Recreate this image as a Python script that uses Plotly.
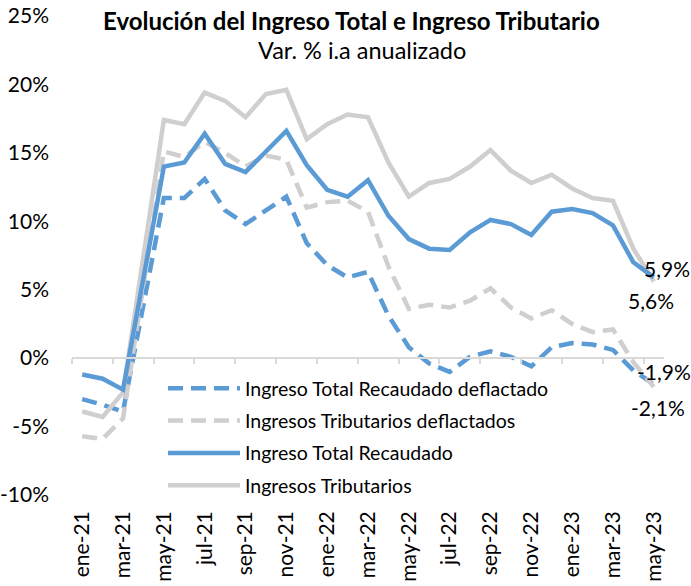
import plotly.graph_objects as go

months = ["ene-21", "feb-21", "mar-21", "abr-21", "may-21", "jun-21", "jul-21", "ago-21",
          "sep-21", "oct-21", "nov-21", "dic-21", "ene-22", "feb-22", "mar-22", "abr-22",
          "may-22", "jun-22", "jul-22", "ago-22", "sep-22", "oct-22", "nov-22", "dic-22",
          "ene-23", "feb-23", "mar-23", "abr-23", "may-23"]

total_deflactado = [-3.0, -3.4, -3.9, 3.9, 11.7, 11.7, 13.1, 10.8, 9.8, 10.8, 11.8, 8.4,
                    6.8, 5.9, 6.3, 3.1, 0.8, -0.4, -1.0, 0.1, 0.5, 0.1, -0.6, 0.8,
                    1.1, 1.0, 0.6, -0.9, -1.9]
tributarios_deflactados = [-5.7, -5.9, -4.4, 5.4, 15.1, 14.7, 15.8, 15.0, 14.0, 14.8, 14.5, 11.0,
                           11.4, 11.5, 10.7, 6.7, 3.6, 3.9, 3.7, 4.2, 5.1, 3.7, 2.9, 3.5,
                           2.5, 1.9, 2.1, -0.3, -2.1]
total_recaudado = [-1.2, -1.5, -2.3, 5.9, 14.0, 14.3, 16.4, 14.2, 13.6, 15.1, 16.6, 14.1,
                   12.3, 11.8, 13.0, 10.4, 8.7, 8.0, 7.9, 9.2, 10.1, 9.8, 9.0, 10.7,
                   10.9, 10.6, 9.7, 7.0, 5.9]
tributarios = [-3.9, -4.3, -2.5, 7.5, 17.4, 17.1, 19.4, 18.8, 17.6, 19.3, 19.6, 16.0,
               17.1, 17.8, 17.6, 14.3, 11.8, 12.8, 13.1, 14.0, 15.2, 13.7, 12.8, 13.4,
               12.4, 11.7, 11.5, 8.0, 5.6]

series_names = ["Ingreso Total Recaudado deflactado", "Ingresos Tributarios deflactados",
                "Ingreso Total Recaudado", "Ingresos Tributarios"]
y_ticks = [-10, -5, 0, 5, 10, 15, 20, 25]

BLUE = "#5B9BD5"
GRAY = "#D0CECE"
FONT = "Lato"
DASH = "15px,8px"

W, H = 691, 586
L, T, R, B = 72, 16, 27, 91
PW, PH = W - L - R, H - T - B


def px(xw):
    return (xw - L) / PW


def py(yw):
    return (H - B - yw) / PH


idx = list(range(len(months)))
fig = go.Figure()

specs = [
    (total_deflactado, series_names[0], BLUE, DASH, "x"),
    (tributarios_deflactados, series_names[1], GRAY, DASH, "x"),
    (tributarios, series_names[3], GRAY, "solid", "x"),
    (total_recaudado, series_names[2], BLUE, "solid", "x2"),
]
rank = {series_names[i]: i + 1 for i in range(4)}
for vals, name, color, dash, xa in specs:
    fig.add_trace(go.Scatter(
        x=idx, y=vals, name=name, mode="lines", xaxis=xa, yaxis="y",
        line=dict(color=color, width=4.5, dash=dash),
        legendrank=rank[name], legendgroup=name,
    ))


def fmt(v):
    return f"{v:.1f}".replace(".", ",") + "%"


last = len(months) - 1
labels = [
    (total_recaudado[-1], 13, 9),
    (tributarios[-1], -3, -19),
    (total_deflactado[-1], 10, 13),
    (tributarios_deflactados[-1], 4, -21),
]
for v, xs, ys in labels:
    fig.add_annotation(x=last, y=v, xref="x", yref="y", text=fmt(v), showarrow=False,
                       xshift=xs, yshift=ys, font=dict(family=FONT, size=21, color="#000000"))

fig.add_annotation(x=px(351.5), y=py(20), xref="paper", yref="paper",
                   xanchor="center", yanchor="middle",
                   text="<b>Evolución del Ingreso Total e Ingreso Tributario</b>",
                   showarrow=False, font=dict(family=FONT, size=24, color="#000000"))
fig.add_annotation(x=px(362), y=py(50), xref="paper", yref="paper",
                   xanchor="center", yanchor="middle",
                   text="Var. % i.a anualizado",
                   showarrow=False, font=dict(family=FONT, size=23.5, color="#000000"))

xr = [-0.5, last + 0.5]
fig.update_layout(
    width=W, height=H,
    margin=dict(l=L, r=R, t=T, b=B, pad=0),
    paper_bgcolor="white", plot_bgcolor="white",
    font=dict(family=FONT, size=21, color="#000000"),
    showlegend=True,
    legend=dict(x=px(163), y=py(369), xanchor="left", yanchor="top",
                bgcolor="rgba(0,0,0,0)", font=dict(family=FONT, size=19.5),
                itemwidth=72, tracegroupgap=4),
    xaxis=dict(range=xr, tickvals=idx[::2], ticktext=months[::2], tickangle=-90,
               showgrid=False, zeroline=False, showline=False, ticks="",
               automargin=False,
               ticklabelstandoff=11, tickfont=dict(family=FONT, size=21)),
    xaxis2=dict(range=xr, overlaying="x", anchor="free", position=10 / 35,
                showgrid=False, zeroline=False, showline=True, linecolor="#D9D9D9",
                linewidth=1.5, ticks="outside", ticklen=5, tickcolor="#D9D9D9",
                tickwidth=1.5, tickvals=[i - 0.5 for i in idx[::2]],
                showticklabels=False, automargin=False),
    yaxis=dict(range=[-10, 25], tickvals=y_ticks, ticktext=[f"{t}%" for t in y_ticks],
               showgrid=False, zeroline=False, showline=False, ticks="",
               automargin=False, ticklabeloverflow="allow",
               ticklabelstandoff=22, tickfont=dict(family=FONT, size=21)),
)

fig.write_html("out.html", config={"displayModeBar": False},
               post_script="document.body.style.margin='0px';")
